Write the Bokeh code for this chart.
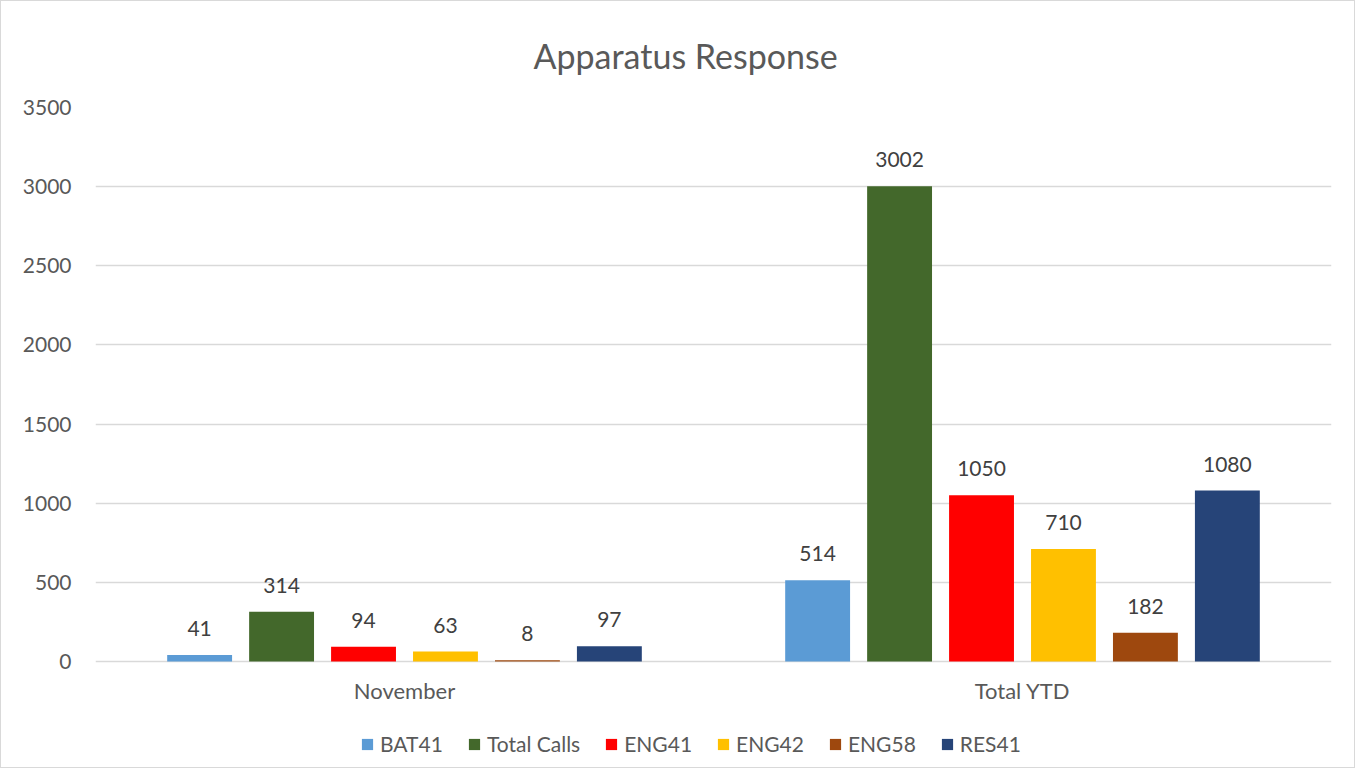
from bokeh.plotting import figure
from bokeh.models import ColumnDataSource, LabelSet, Legend, FactorRange
from bokeh.transform import dodge
from bokeh.core.properties import value
from bokeh.embed import file_html
from bokeh.resources import INLINE

categories = ["November", "Total YTD"]
series_names = ["BAT41", "Total Calls", "ENG41", "ENG42", "ENG58", "RES41"]
BAT41 = [41, 514]
Total_Calls = [314, 3002]
ENG41 = [94, 1050]
ENG42 = [63, 710]
ENG58 = [8, 182]
RES41 = [97, 1080]
y_ticks = [0, 500, 1000, 1500, 2000, 2500, 3000, 3500]

series_values = [BAT41, Total_Calls, ENG41, ENG42, ENG58, RES41]
colors = ["#5b9bd5", "#43682b", "#ff0000", "#ffc000", "#9e480e", "#264478"]

FONT = "Lato"
TXT = "#595959"

# y range extends below zero to leave room for category labels and legend
p = figure(x_range=FactorRange(*categories), y_range=(-657, 3500),
           width=1355, height=768, output_backend="svg", toolbar_location=None,
           title="Apparatus Response")
p.min_border_left = 94
p.min_border_right = 25
p.min_border_top = 105
p.min_border_bottom = 4
p.outline_line_color = None
p.styles = {"border": "1px solid #d9d9d9"}

p.title.align = "left"
p.title.offset = 438
p.title.text_font = FONT
p.title.text_font_size = "34px"
p.title.text_font_style = "normal"
p.title.text_color = TXT
p.title.standoff = 63

step = 0.1326
width = 0.105
renderers = []
for i, (name, vals, col) in enumerate(zip(series_names, series_values, colors)):
    src = ColumnDataSource(dict(x=categories, y=vals, label=[str(v) for v in vals]))
    off = (i - 2.5) * step
    r = p.vbar(x=dodge("x", off, range=p.x_range), top="y", width=width, source=src,
               fill_color=col, line_color=None)
    renderers.append((name, [r]))
    lbl = LabelSet(x=dodge("x", off, range=p.x_range), y="y", text="label", source=src,
                   text_align="center", text_baseline="alphabetic", y_offset=19,
                   text_font=value(FONT), text_font_size=value("21px"),
                   text_color="#404040")
    p.add_layout(lbl)

# category labels under the zero line
cat_src = ColumnDataSource(dict(x=categories, y=[0] * len(categories), label=categories))
p.add_layout(LabelSet(x="x", y="y", text="label", source=cat_src,
                      text_align="center", text_baseline="middle", y_offset=-29,
                      text_font=value(FONT), text_font_size=value("22px"),
                      text_color=TXT))

p.xaxis.visible = False
p.yaxis.ticker = y_ticks
p.ygrid.grid_line_color = "#d9d9d9"
p.ygrid.grid_line_width = 1.3
p.xgrid.grid_line_color = None
p.yaxis.axis_line_color = None
p.yaxis.major_tick_line_color = None
p.yaxis.minor_tick_line_color = None
p.yaxis.major_label_standoff = 18
p.yaxis.major_label_text_font = FONT
p.yaxis.major_label_text_font_size = "21px"
p.yaxis.major_label_text_color = TXT

legend = Legend(items=renderers, orientation="horizontal", location=(265, 9),
                label_text_font=FONT, label_text_font_size="21px", label_text_color=TXT,
                glyph_width=14, glyph_height=14, spacing=24, label_standoff=6,
                border_line_color=None, background_fill_alpha=0, margin=0, padding=0)
p.add_layout(legend, "center")

open("out.html", "w").write(file_html(p, INLINE))
